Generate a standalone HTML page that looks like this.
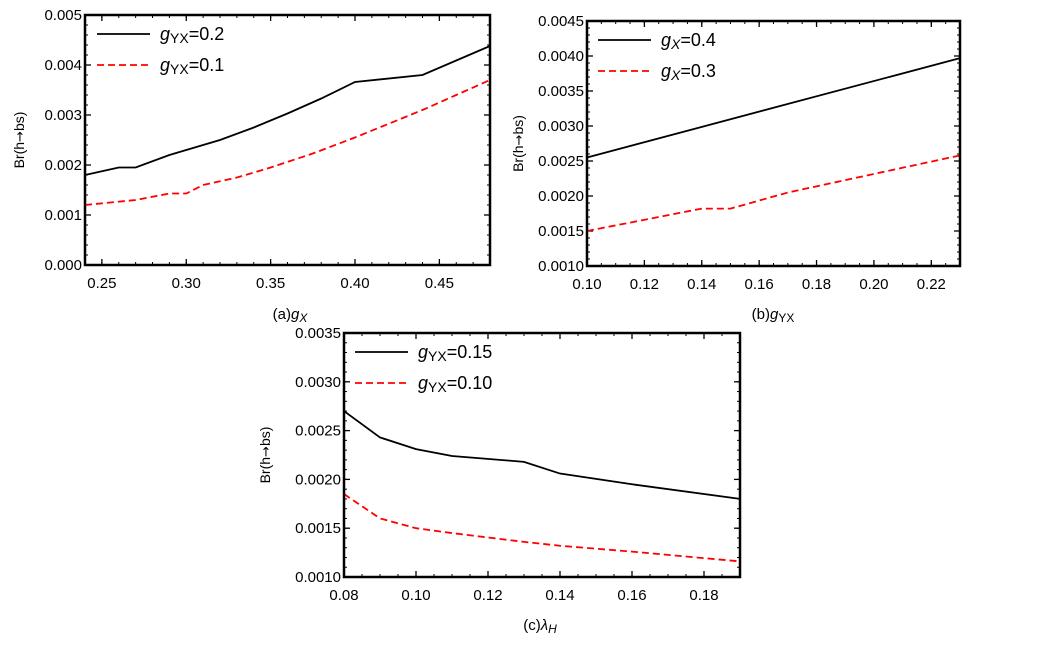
<!DOCTYPE html>
<html><head><meta charset="utf-8"><style>
body{margin:0;background:#fff;width:1057px;height:647px;overflow:hidden}
svg{font-family:"Liberation Sans",sans-serif}
</style></head><body>
<svg id="s" width="1057" height="647" xmlns="http://www.w3.org/2000/svg"></svg>
<script>
const S=document.getElementById('s');let h='';
function panel(p){
 const {L,R,T,B,x0,x1,y0,y1,xt,yt,xd,yd,xmin,ymin}=p;
 const X=v=>L+(v-x0)/(x1-x0)*(R-L), Y=v=>B-(v-y0)/(y1-y0)*(B-T);
 for(let v=x0;v<=x1+1e-9;v+=xmin){const x=X(v);h+=`<line x1="${x}" y1="${B}" x2="${x}" y2="${B-3}" stroke="#000" stroke-width="1"/><line x1="${x}" y1="${T}" x2="${x}" y2="${T+3}" stroke="#000" stroke-width="1"/>`;}
 for(let v=y0;v<=y1+1e-9;v+=ymin){const y=Y(v);h+=`<line x1="${L}" y1="${y}" x2="${L+3}" y2="${y}" stroke="#000" stroke-width="1"/><line x1="${R}" y1="${y}" x2="${R-3}" y2="${y}" stroke="#000" stroke-width="1"/>`;}
 xt.forEach(v=>{const x=X(v);h+=`<line x1="${x}" y1="${B}" x2="${x}" y2="${B-6}" stroke="#000" stroke-width="1.3"/><line x1="${x}" y1="${T}" x2="${x}" y2="${T+6}" stroke="#000" stroke-width="1.3"/><text x="${x}" y="${B+23}" font-size="15" text-anchor="middle">${v.toFixed(xd)}</text>`;});
 yt.forEach(v=>{const y=Y(v);h+=`<line x1="${L}" y1="${y}" x2="${L+6}" y2="${y}" stroke="#000" stroke-width="1.3"/><line x1="${R}" y1="${y}" x2="${R-6}" y2="${y}" stroke="#000" stroke-width="1.3"/><text x="${L-3}" y="${y+5}" font-size="15" text-anchor="end">${v.toFixed(yd)}</text>`;});
 const pl=(pts,st)=>{h+=`<polyline fill="none" ${st} points="${pts.map(q=>X(q[0])+','+Y(q[1])).join(' ')}"/>`;};
 pl(p.b,'stroke="#000" stroke-width="1.8"');
 pl(p.r,'stroke="#f00" stroke-width="1.8" stroke-dasharray="7,4"');
 h+=`<rect x="${L}" y="${T}" width="${R-L}" height="${B-T}" fill="none" stroke="#000" stroke-width="2.5"/>`;
 h+=`<text transform="translate(${p.yl},${(T+B)/2}) rotate(-90)" font-size="14" text-anchor="middle">Br(h<tspan font-family="DejaVu Sans" font-size="13">→</tspan>bs)</text>`;
 const lg=p.lg;
 h+=`<line x1="${lg.x}" y1="${lg.y}" x2="${lg.x+53}" y2="${lg.y}" stroke="#000" stroke-width="1.8"/>`;
 h+=`<line x1="${lg.x}" y1="${lg.y+31}" x2="${lg.x+53}" y2="${lg.y+31}" stroke="#f00" stroke-width="1.8" stroke-dasharray="7,4"/>`;
 h+=`<text x="${lg.x+63}" y="${lg.y+6}" font-size="18">${lg.t1}</text><text x="${lg.x+63}" y="${lg.y+37}" font-size="18">${lg.t2}</text>`;
 h+=`<text x="${p.cx}" y="${p.cy}" font-size="15" text-anchor="middle">${p.cap}</text>`;
}
const gyx='<tspan font-style="italic">g</tspan><tspan font-size="14" dy="3">YX</tspan><tspan dy="-3">';
const gx='<tspan font-style="italic">g</tspan><tspan font-size="14" dy="3" font-style="italic">X</tspan><tspan dy="-3">';
panel({L:85,R:490,T:15,B:265,x0:0.24,x1:0.48,y0:0,y1:0.005,xt:[0.25,0.3,0.35,0.4,0.45],yt:[0,0.001,0.002,0.003,0.004,0.005],xd:2,yd:3,xmin:0.01,ymin:0.0002,
 b:[[0.24,0.0018],[0.26,0.00195],[0.27,0.00195],[0.29,0.0022],[0.30,0.0023],[0.32,0.0025],[0.34,0.00275],[0.36,0.00303],[0.38,0.00333],[0.40,0.00366],[0.44,0.0038],[0.48,0.00438]],
 r:[[0.24,0.0012],[0.27,0.0013],[0.29,0.00143],[0.30,0.00143],[0.31,0.0016],[0.33,0.00175],[0.35,0.00195],[0.375,0.00223],[0.40,0.00255],[0.44,0.0031],[0.48,0.0037]],
 yl:24,lg:{x:97,y:34,t1:gyx+'=0.2</tspan>',t2:gyx+'=0.1</tspan>'},cx:290,cy:319,cap:'(a)<tspan font-style="italic">g</tspan><tspan font-size="12" dy="3" font-style="italic">X</tspan>'});
panel({L:587,R:960,T:21,B:266,x0:0.10,x1:0.23,y0:0.001,y1:0.0045,xt:[0.10,0.12,0.14,0.16,0.18,0.20,0.22],yt:[0.001,0.0015,0.002,0.0025,0.003,0.0035,0.004,0.0045],xd:2,yd:4,xmin:0.005,ymin:0.0001,
 b:[[0.10,0.00255],[0.23,0.00397]],
 r:[[0.10,0.0015],[0.14,0.00182],[0.15,0.00182],[0.17,0.00205],[0.23,0.00258]],
 yl:523,lg:{x:598,y:40,t1:gx+'=0.4</tspan>',t2:gx+'=0.3</tspan>'},cx:773,cy:319,cap:'(b)<tspan font-style="italic">g</tspan><tspan font-size="12" dy="3">YX</tspan>'});
panel({L:344,R:740,T:333,B:577,x0:0.08,x1:0.19,y0:0.001,y1:0.0035,xt:[0.08,0.10,0.12,0.14,0.16,0.18],yt:[0.001,0.0015,0.002,0.0025,0.003,0.0035],xd:2,yd:4,xmin:0.005,ymin:0.0001,
 b:[[0.08,0.0027],[0.09,0.00243],[0.10,0.00231],[0.11,0.00224],[0.13,0.00218],[0.14,0.00206],[0.16,0.00195],[0.19,0.0018]],
 r:[[0.08,0.00185],[0.09,0.0016],[0.10,0.0015],[0.11,0.00145],[0.13,0.00136],[0.14,0.00132],[0.16,0.00126],[0.19,0.00116]],
 yl:270,lg:{x:355,y:352,t1:gyx+'=0.15</tspan>',t2:gyx+'=0.10</tspan>'},cx:540,cy:630,cap:'(c)<tspan font-style="italic">λ</tspan><tspan font-size="12" dy="3" font-style="italic">H</tspan>'});
S.innerHTML=h;
</script>
</body></html>
